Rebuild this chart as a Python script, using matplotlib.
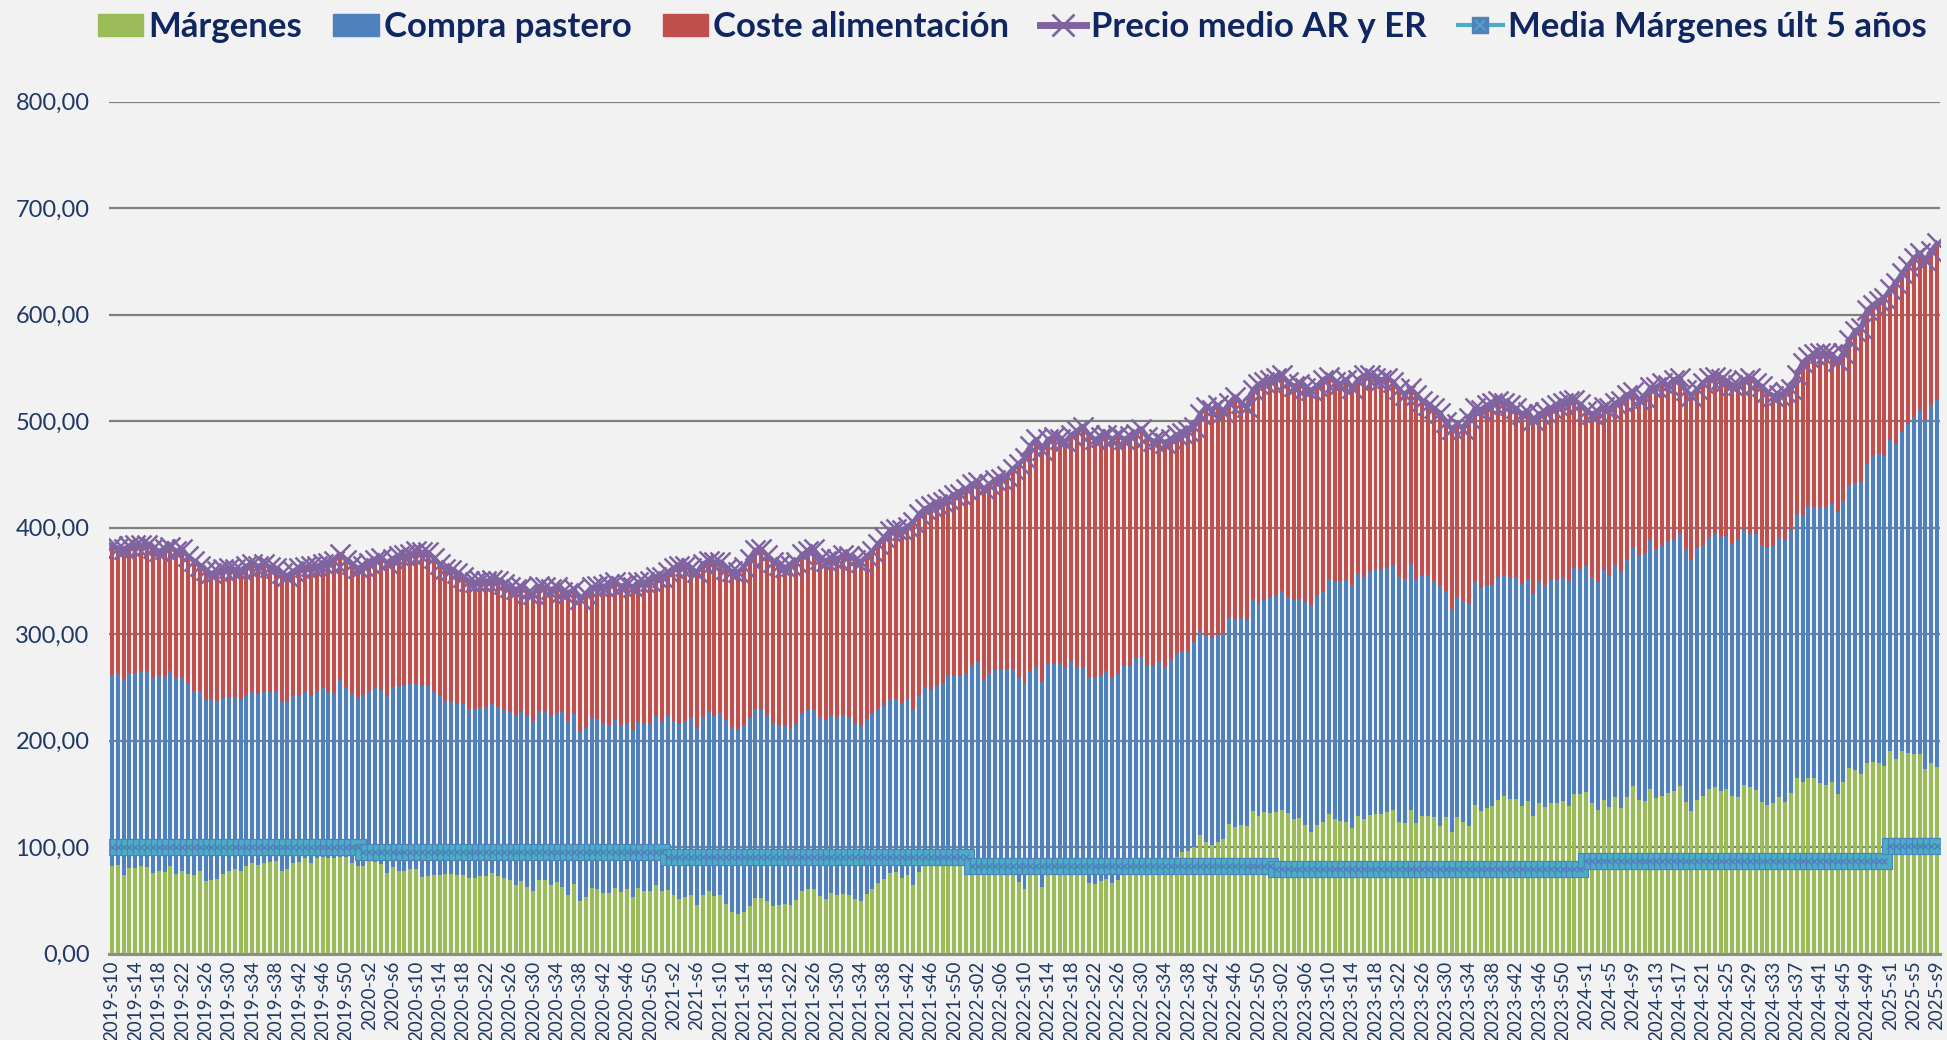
import numpy as np
import matplotlib
matplotlib.use("Agg")
import matplotlib.pyplot as plt
from matplotlib.patches import Patch
from matplotlib.lines import Line2D
from matplotlib.legend_handler import HandlerTuple

# semanas: (año, primera semana, ultima semana)
anios = [(2019, 10, 52), (2020, 1, 52), (2021, 1, 52), (2022, 1, 52),
         (2023, 1, 53), (2024, 1, 52), (2025, 1, 9)]

margenes = [
    82, 83, 74, 80, 80, 82, 81, 76, 78, 77,
    82, 75, 78, 75, 74, 78, 68, 69, 70, 75,
    78, 79, 78, 82, 85, 83, 85, 86, 87, 78,
    79, 85, 86, 90, 85, 90, 91, 90, 90, 91,
    91, 85, 82, 82, 87, 86, 84, 76, 81, 78,
    78, 79, 79, 72, 73, 74, 74, 75, 75, 74,
    74, 71, 71, 73, 73, 76, 73, 71, 69, 64,
    68, 63, 59, 69, 69, 64, 67, 63, 55, 65,
    49, 53, 62, 61, 57, 57, 62, 58, 61, 53,
    62, 59, 59, 64, 59, 60, 55, 51, 53, 55,
    46, 55, 59, 54, 55, 47, 39, 37, 39, 45,
    52, 52, 49, 45, 46, 47, 46, 50, 59, 61,
    61, 54, 51, 57, 55, 56, 55, 51, 49, 56,
    61, 66, 70, 76, 77, 71, 74, 64, 77, 83,
    84, 85, 86, 88, 88, 88, 89, 90, 90, 78,
    80, 80, 80, 79, 79, 67, 61, 76, 78, 63,
    80, 79, 80, 77, 81, 76, 76, 66, 65, 68,
    70, 66, 69, 76, 77, 82, 83, 78, 78, 82,
    80, 85, 91, 95, 96, 100, 111, 105, 102, 105,
    108, 122, 119, 121, 120, 134, 129, 133, 132, 133,
    135, 132, 126, 127, 121, 114, 121, 124, 131, 126,
    125, 124, 118, 129, 126, 130, 131, 131, 133, 135,
    124, 123, 135, 123, 129, 129, 128, 120, 128, 114,
    128, 124, 120, 140, 134, 137, 139, 144, 148, 145,
    145, 139, 143, 129, 141, 138, 141, 141, 143, 139,
    150, 150, 152, 141, 135, 144, 138, 147, 137, 147,
    157, 144, 143, 155, 146, 148, 151, 153, 157, 142,
    134, 144, 148, 155, 156, 153, 155, 148, 147, 158,
    156, 154, 142, 140, 141, 147, 142, 151, 165, 161,
    165, 165, 160, 158, 161, 150, 161, 174, 172, 169,
    179, 180, 179, 176, 190, 183, 190, 188, 187, 187,
    173, 179, 175]

compra = [
    180, 181, 184, 184, 184, 183, 184, 183, 183, 183,
    183, 184, 181, 179, 173, 169, 170, 170, 166, 165,
    162, 162, 160, 161, 162, 161, 161, 160, 160, 159,
    158, 157, 157, 157, 157, 157, 158, 156, 155, 166,
    159, 159, 159, 161, 160, 163, 164, 166, 169, 173,
    173, 174, 174, 179, 178, 173, 168, 162, 161, 160,
    160, 159, 159, 159, 159, 158, 159, 158, 158, 159,
    160, 160, 159, 159, 159, 159, 159, 164, 163, 160,
    159, 159, 159, 159, 160, 158, 157, 157, 156, 157,
    156, 157, 158, 159, 159, 163, 163, 165, 165, 166,
    167, 167, 169, 169, 171, 172, 174, 174, 176, 176,
    178, 177, 175, 172, 169, 167, 165, 166, 167, 168,
    169, 168, 168, 167, 167, 168, 166, 165, 165, 164,
    164, 164, 163, 163, 162, 164, 164, 165, 166, 167,
    164, 166, 167, 173, 173, 173, 175, 181, 184, 179,
    184, 186, 186, 187, 188, 192, 193, 189, 191, 192,
    193, 193, 193, 191, 193, 192, 192, 194, 194, 194,
    195, 193, 194, 194, 193, 196, 196, 192, 192, 193,
    189, 191, 190, 189, 188, 193, 192, 193, 194, 194,
    193, 193, 194, 194, 193, 199, 199, 199, 202, 203,
    206, 203, 206, 206, 209, 212, 215, 216, 221, 223,
    225, 228, 228, 228, 228, 228, 229, 229, 229, 229,
    230, 229, 232, 229, 226, 227, 222, 225, 213, 210,
    207, 207, 208, 209, 209, 209, 207, 210, 208, 209,
    209, 208, 209, 209, 209, 208, 210, 210, 211, 211,
    212, 211, 212, 213, 214, 216, 218, 218, 221, 223,
    224, 230, 233, 234, 234, 236, 236, 235, 237, 238,
    236, 237, 236, 236, 238, 238, 237, 238, 241, 240,
    239, 240, 242, 241, 242, 244, 246, 247, 248, 250,
    255, 254, 259, 261, 261, 265, 264, 266, 270, 274,
    281, 288, 291, 291, 292, 296, 300, 309, 317, 324,
    328, 336, 346]

coste = [
    121, 117, 122, 119, 120, 119, 119, 122, 117, 120,
    117, 119, 121, 119, 122, 117, 122, 118, 123, 121,
    122, 120, 122, 121, 119, 120, 120, 117, 115, 120,
    118, 117, 119, 116, 122, 117, 117, 121, 124, 118,
    120, 122, 121, 121, 120, 121, 124, 125, 121, 122,
    123, 122, 125, 126, 126, 125, 124, 124, 124, 123,
    120, 120, 119, 118, 118, 117, 118, 118, 117, 119,
    116, 116, 120, 117, 116, 119, 118, 113, 121, 117,
    125, 126, 123, 125, 128, 132, 130, 130, 130, 134,
    131, 133, 133, 131, 136, 135, 144, 148, 146, 141,
    145, 144, 141, 145, 142, 142, 146, 147, 148, 150,
    149, 151, 150, 151, 150, 149, 153, 152, 149, 149,
    150, 149, 150, 148, 149, 150, 152, 154, 154, 153,
    153, 155, 158, 158, 160, 163, 163, 176, 170, 168,
    172, 171, 171, 166, 170, 171, 172, 170, 169, 179,
    177, 179, 180, 183, 188, 201, 211, 212, 214, 218,
    210, 213, 210, 213, 213, 223, 227, 227, 224, 223,
    222, 224, 224, 213, 216, 210, 214, 215, 211, 208,
    211, 207, 206, 205, 207, 202, 204, 215, 215, 216,
    208, 202, 210, 202, 200, 196, 207, 205, 205, 205,
    202, 202, 201, 202, 201, 203, 197, 199, 190, 188,
    185, 187, 185, 182, 189, 185, 181, 179, 179, 173,
    176, 173, 164, 173, 164, 159, 162, 163, 158, 169,
    162, 162, 175, 163, 168, 169, 171, 165, 161, 161,
    158, 160, 157, 163, 157, 163, 161, 164, 163, 169,
    158, 155, 146, 153, 160, 153, 156, 152, 161, 155,
    146, 146, 146, 143, 152, 152, 147, 151, 147, 149,
    154, 149, 152, 150, 148, 149, 146, 148, 146, 141,
    146, 142, 149, 146, 141, 134, 139, 132, 130, 144,
    140, 144, 145, 145, 141, 142, 139, 136, 143, 145,
    144, 141, 143, 149, 142, 151, 149, 149, 149, 147,
    150, 145, 146]

precio = [
    383, 381, 380, 383, 384, 384, 384, 381, 378, 380,
    382, 378, 380, 373, 369, 364, 360, 357, 359, 361,
    362, 361, 360, 364, 366, 364, 366, 363, 362, 357,
    355, 359, 362, 363, 364, 364, 366, 367, 369, 375,
    370, 366, 362, 364, 367, 370, 372, 367, 371, 373,
    374, 375, 378, 377, 377, 372, 366, 361, 360, 357,
    354, 350, 349, 350, 350, 351, 350, 347, 344, 342,
    344, 339, 338, 345, 344, 342, 344, 340, 339, 342,
    333, 338, 344, 345, 345, 347, 349, 345, 347, 344,
    349, 349, 350, 354, 354, 358, 362, 364, 364, 362,
    358, 366, 369, 368, 368, 361, 359, 358, 363, 371,
    379, 380, 374, 368, 365, 363, 364, 368, 375, 378,
    380, 371, 369, 372, 371, 374, 373, 370, 368, 373,
    378, 385, 391, 397, 399, 398, 401, 405, 413, 418,
    420, 422, 424, 427, 431, 432, 436, 441, 443, 436,
    441, 445, 446, 449, 455, 460, 465, 477, 483, 473,
    483, 485, 483, 481, 487, 491, 495, 487, 483, 485,
    487, 483, 487, 483, 486, 488, 493, 485, 481, 483,
    480, 483, 487, 489, 491, 495, 507, 513, 511, 515,
    509, 517, 523, 517, 513, 529, 535, 537, 539, 541,
    543, 537, 533, 535, 531, 529, 533, 539, 542, 537,
    535, 539, 531, 539, 543, 543, 541, 539, 541, 537,
    530, 525, 531, 525, 519, 515, 512, 508, 499, 493,
    497, 493, 503, 512, 511, 515, 517, 519, 517, 515,
    512, 507, 509, 501, 507, 509, 512, 515, 517, 519,
    520, 516, 510, 507, 509, 513, 512, 517, 519, 525,
    527, 520, 522, 532, 532, 536, 534, 539, 541, 529,
    524, 530, 536, 541, 542, 540, 538, 534, 534, 539,
    541, 536, 533, 527, 524, 525, 527, 530, 543, 555,
    560, 563, 564, 564, 563, 557, 564, 576, 585, 588,
    604, 609, 613, 616, 624, 630, 639, 646, 653, 658,
    651, 660, 667]

# media de margenes de los ultimos 5 años, un valor por año
media_anio = {2019: 100, 2020: 95, 2021: 91, 2022: 82, 2023: 79, 2024: 87, 2025: 101}

etiquetas = []
anio_sem = []
for y, w0, w1 in anios:
    for w in range(w0, w1 + 1):
        if y in (2022, 2023):
            etiquetas.append(f"{y}-s{w:02d}")
        else:
            etiquetas.append(f"{y}-s{w}")
        anio_sem.append(y)
media = [media_anio[y] for y in anio_sem]

x = np.arange(len(etiquetas))
margenes = np.array(margenes)
compra = np.array(compra)
coste = np.array(coste)

verde = "#9BBB59"
azul = "#4F81BD"
rojo = "#C0504D"
morado = "#8064A2"
celeste = "#4BACC6"
texto = "#1F3864"
fondo = "#F2F2F2"

fig = plt.figure(figsize=(19.47, 10.4), dpi=100, facecolor=fondo)
ax = fig.add_axes([109 / 1947, 86.4 / 1040, 1831 / 1947, 851.8 / 1040])
ax.set_facecolor(fondo)

w = 0.68
ax.bar(x, margenes, w, color=verde, zorder=2)
ax.bar(x, compra, w, bottom=margenes, color=azul, zorder=2)
ax.bar(x, coste, w, bottom=margenes + compra, color=rojo, zorder=2)

ax.plot(x, precio, color=morado, lw=3.5, marker="x", ms=15, mew=1.8, zorder=4)
ax.plot(x, media, color=celeste, lw=3, marker="s", ms=11, mfc=celeste,
        mec=azul, mew=0.8, zorder=5)
ax.plot(x, media, ls="none", marker="x", ms=5, mec=azul, mew=1, zorder=6)

ax.set_xlim(-0.5, len(x) - 0.5)
ax.set_ylim(0, 800)
ax.set_yticks(np.arange(0, 801, 100))
ax.set_yticklabels([f"{v:.2f}".replace(".", ",") for v in range(0, 801, 100)],
                   fontsize=17, color=texto, family="Lato")
ax.set_xticks(x[::4])
ax.set_xticklabels(etiquetas[::4], rotation=90, fontsize=13.5, color=texto,
                   family="Lato", va="top")
ax.tick_params(axis="y", length=0, pad=14)
ax.tick_params(axis="x", length=0, pad=5)
ax.yaxis.grid(True, color="#7F7F7F", lw=1.6)
ax.set_axisbelow(True)
for s in ["top", "right", "left"]:
    ax.spines[s].set_visible(False)
ax.spines["bottom"].set_color("#8C8C8C")
ax.spines["bottom"].set_linewidth(2.2)
ax.spines["bottom"].set_zorder(3)

handles = [
    Patch(color=verde),
    Patch(color=azul),
    Patch(color=rojo),
    Line2D([], [], color=morado, lw=5, marker="x", ms=16, mew=2),
    (Line2D([], [], color=celeste, lw=3),
     Line2D([], [], ls="none", marker="s", ms=11, mfc=azul, mec=azul),
     Line2D([], [], ls="none", marker="x", ms=7, mec=celeste, mew=1.2)),
]
nombres = ["Márgenes", "Compra pastero", "Coste alimentación",
           "Precio medio AR y ER", "Media Márgenes últ 5 años"]
fig.legend(handles, nombres, loc="center", bbox_to_anchor=(0.52, 0.974), ncol=5,
           frameon=False, handlelength=1.3, handleheight=0.6, handletextpad=0.15,
           columnspacing=0.9, labelcolor="#0F2660",
           handler_map={tuple: HandlerTuple(ndivide=1, pad=0)},
           prop={"family": ["Lato", "DejaVu Sans"], "weight": "bold", "size": 25})

fig.savefig("out.png", dpi=100, facecolor=fondo)
